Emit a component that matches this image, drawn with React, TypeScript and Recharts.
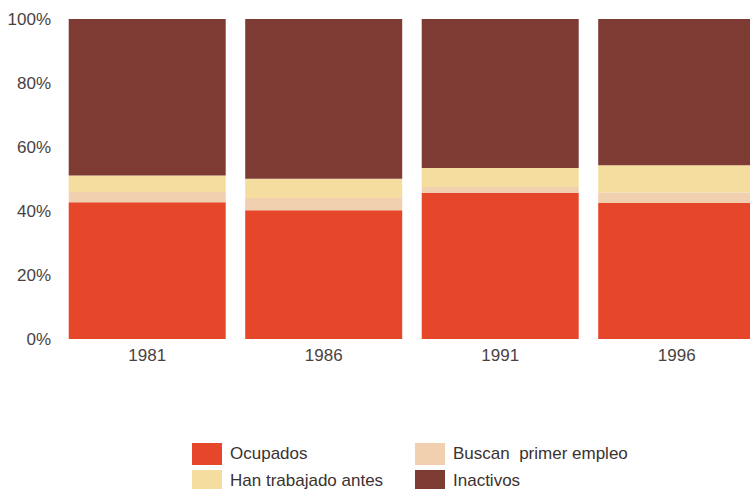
import { Bar, BarChart, XAxis, YAxis } from "recharts";

const years = ["1981", "1986", "1991", "1996"];
const ocupados = [42.7, 40.2, 45.6, 42.5];
const buscanPrimerEmpleo = [3.2, 3.9, 1.9, 3.3];
const hanTrabajadoAntes = [5.2, 6.0, 5.9, 8.5];
const inactivos = [48.9, 49.9, 46.6, 45.7];
const yTicks = [0, 20, 40, 60, 80, 100];

const series = [
  { key: "ocupados", name: "Ocupados", color: "#e6472b" },
  { key: "buscan", name: "Buscan  primer empleo", color: "#f1d0b0" },
  { key: "han", name: "Han trabajado antes", color: "#f4dd9e" },
  { key: "inactivos", name: "Inactivos", color: "#7e3b34" },
];

const data = years.map((year, i) => ({
  year,
  ocupados: ocupados[i],
  buscan: buscanPrimerEmpleo[i],
  han: hanTrabajadoAntes[i],
  inactivos: inactivos[i],
}));

// legend is laid out in two columns like the printed figure
const legendOrder = [
  ["ocupados", "han"],
  ["buscan", "inactivos"],
];

const font = "Liberation Sans, Arial, sans-serif";

function LegendBox() {
  return (
    <div style={{ position: "absolute", top: 440, left: 0, display: "flex", fontFamily: font }}>
      {legendOrder.map((col, ci) => (
        <div key={ci} style={{ marginLeft: ci === 0 ? 192 : 0, width: ci === 0 ? 223 : 300 }}>
          {col.map((k) => {
            const s = series.find((x) => x.key === k)!;
            return (
              <div key={k} style={{ display: "flex", alignItems: "center", height: 27 }}>
                <span style={{ width: 30, height: 22, background: s.color, display: "inline-block" }} />
                <span style={{ marginLeft: 8, fontSize: 17, color: "#3b3232", whiteSpace: "pre" }}>
                  {s.name}
                </span>
              </div>
            );
          })}
        </div>
      ))}
    </div>
  );
}

export default function App() {
  return (
    <div
      style={{
        position: "absolute",
        left: 0,
        top: 0,
        width: 750,
        height: 489,
        overflow: "hidden",
        background: "#fff",
      }}
    >
      <BarChart
        width={770}
        height={489}
        data={data}
        margin={{ top: 19, right: 5, left: 0, bottom: 120 }}
        barCategoryGap="5.5%"
      >
        <XAxis
          dataKey="year"
          axisLine={false}
          tickLine={false}
          height={30}
          tickMargin={4}
          tick={{ fontSize: 17, fill: "#4a4242", fontFamily: font }}
        />
        <YAxis
          width={59}
          domain={[0, 100]}
          ticks={yTicks}
          axisLine={false}
          tickLine={false}
          tickFormatter={(v: number) => `${v}%`}
          tick={{ fontSize: 17, fill: "#4a4242", fontFamily: font }}
        />
        {series.map((s) => (
          <Bar
            key={s.key}
            dataKey={s.key}
            name={s.name}
            stackId="a"
            fill={s.color}
            isAnimationActive={false}
          />
        ))}
      </BarChart>
      <LegendBox />
    </div>
  );
}
